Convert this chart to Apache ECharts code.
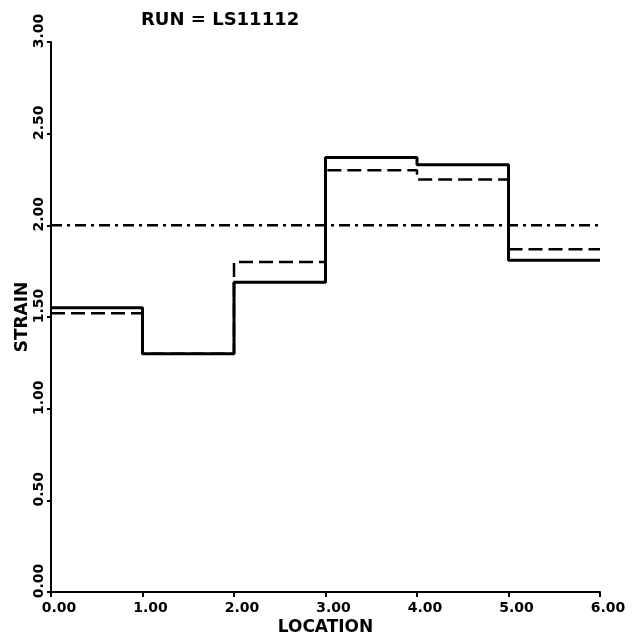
<!DOCTYPE html>
<html>
<head>
<meta charset="utf-8">
<script src="https://cdn.jsdelivr.net/npm/echarts@6/dist/echarts.min.js"></script>
<style>
  html, body { margin: 0; padding: 0; background: #fff; }
  #chart { width: 643px; height: 638px; }
</style>
</head>
<body>
<div id="chart"></div>
<script>
// segment boundaries along the specimen
const locations = [0, 1, 2, 3, 4, 5, 6]
// strain per segment
const strainSolid = [1.55, 1.30, 1.69, 2.37, 2.33, 1.81]
const strainDashed = [1.52, 1.30, 1.80, 2.30, 2.25, 1.87]
const strainLimit = [2.0, 2.0]
const limitLocations = [0, 6]

const font = 'DejaVu Sans'

// step series: one point per boundary, last value repeated at the end
function stepData(vals) {
  const out = []
  for (var i = 0; i < locations.length; i++) {
    out.push([locations[i], vals[Math.min(i, vals.length - 1)]])
  }
  return out
}

const chart = echarts.init(document.getElementById('chart'))
chart.setOption({
  animation: false,
  backgroundColor: '#fff',
  title: {
    text: 'RUN = LS11112',
    left: 136,
    top: 6,
    textStyle: { fontFamily: font, fontWeight: 'bold', fontSize: 18, color: '#000' },
  },
  grid: { left: 51, right: 43, top: 42, bottom: 46, outerBoundsMode: 'none', containLabel: false },
  xAxis: {
    type: 'value',
    min: 0,
    max: 6,
    interval: 1,
    name: 'LOCATION',
    nameLocation: 'middle',
    nameGap: 27,
    nameMoveOverlap: false,
    nameTextStyle: { fontFamily: font, fontWeight: 'bold', fontSize: 17, color: '#000' },
    axisLine: { lineStyle: { color: '#000', width: 2 } },
    axisTick: { length: 5, lineStyle: { color: '#000', width: 2 } },
    splitLine: { show: false },
    axisLabel: {
      formatter: (v) => v.toFixed(2),
      fontFamily: font,
      fontWeight: 'bold',
      fontSize: 14,
      color: '#000',
      margin: 9,
      padding: [0, 0, 0, 16],
    },
  },
  yAxis: {
    type: 'value',
    min: 0,
    max: 3,
    interval: 0.5,
    name: 'STRAIN',
    nameLocation: 'middle',
    nameRotate: 90,
    nameGap: 20,
    nameMoveOverlap: false,
    nameTextStyle: { fontFamily: font, fontWeight: 'bold', fontSize: 17, color: '#000' },
    axisLine: { show: true, lineStyle: { color: '#000', width: 2 } },
    axisTick: { show: true, length: 4, lineStyle: { color: '#000', width: 2 } },
    splitLine: { show: false },
    axisLabel: {
      rotate: 90,
      formatter: (v) => v.toFixed(2),
      fontFamily: font,
      fontWeight: 'bold',
      fontSize: 14,
      color: '#000',
      margin: 5,
      padding: [0, 0, 0, 22],
    },
  },
  series: [
    {
      type: 'line',
      step: 'end',
      symbol: 'none',
      data: stepData(strainSolid),
      lineStyle: { color: '#000', width: 3, type: 'solid' },
      z: 3,
    },
    {
      type: 'line',
      step: 'end',
      symbol: 'none',
      data: stepData(strainDashed),
      lineStyle: { color: '#000', width: 2.5, type: [14, 6] },
      z: 2,
    },
    {
      type: 'line',
      symbol: 'none',
      data: limitLocations.map((x, i) => [x, strainLimit[i]]),
      lineStyle: { color: '#000', width: 2.5, type: [11, 5, 3, 5] },
      z: 2,
    },
  ],
})
</script>
</body>
</html>
